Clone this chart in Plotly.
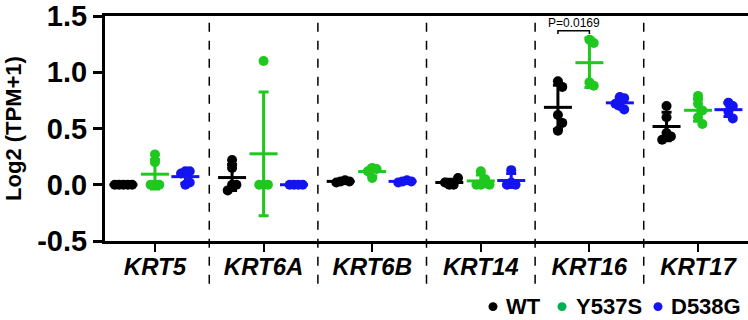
import numpy as np
import plotly.graph_objects as go

genes = ["KRT5", "KRT6A", "KRT6B", "KRT14", "KRT16", "KRT17"]
series_names = ["WT", "Y537S", "D538G"]
colors = ["#000000", "#1ec81e", "#1414f0"]
legend_colors = ["#000000", "#00b050", "#1414f0"]

wt = [
    [0.0, 0.0, 0.0, 0.0, 0.0],
    [0.22, 0.15, 0.0, 0.0, -0.05],
    [0.03, 0.04, 0.02, 0.03],
    [0.0, 0.0, 0.02, 0.06],
    [0.92, 0.87, 0.62, 0.55, 0.48],
    [0.70, 0.60, 0.46, 0.43, 0.40],
]
y537s = [
    [0.27, 0.2, 0.0, 0.0, 0.0],
    [1.10, 0.0, 0.0, 0.0],
    [0.15, 0.14, 0.12, 0.06],
    [0.12, 0.05, 0.0, 0.0, 0.0],
    [1.29, 1.26, 0.91, 0.88],
    [0.79, 0.72, 0.66, 0.60, 0.54],
]
d538g = [
    [0.12, 0.12, 0.1, 0.0, 0.02],
    [0.0, 0.0, 0.0, 0.0],
    [0.03, 0.04, 0.02, 0.03],
    [0.13, 0.02, 0.0, 0.0],
    [0.78, 0.77, 0.72, 0.70, 0.67],
    [0.73, 0.70, 0.65, 0.59],
]
all_series = [wt, y537s, d538g]
series_offsets = [-0.29, 0.0, 0.28]

y_ticks = [-0.5, 0.0, 0.5, 1.0, 1.5]
p_text = "P=0.0169"
p_gene = 4  # KRT16, WT vs Y537S
p_y = 1.37

# legend layout (pixel positions in the 748x320 page)
legend_marker_px = [493, 562, 658]
legend_text_px = [504, 574, 669]
legend_y_px = 308

W, H = 748, 320
ML, MR, MT, MB = 105, 0, 11, 79
PW, PH = W - ML - MR, H - MT - MB


def to_paper(px, py):
    return (px - ML) / PW, (H - MB - py) / PH


fig = go.Figure()


def swarm(vals, step=0.04, ythr=0.07):
    placed = []
    xs = []
    for v in vals:
        cands = [0.0]
        for k in range(1, 8):
            cands += [k * step, -k * step]
        for c in cands:
            ok = all(not (abs(v - pv) < ythr and abs(c - px) < step * 0.9) for pv, px in placed)
            if ok:
                placed.append((v, c))
                xs.append(c)
                break
    return xs


for si, (name, data) in enumerate(zip(series_names, all_series)):
    px, py = [], []
    mx, my, msd = [], [], []
    for gi, vals in enumerate(data):
        center = gi + series_offsets[si]
        offs = swarm(vals)
        px += [center + o for o in offs]
        py += vals
        mx.append(center)
        my.append(float(np.mean(vals)))
        msd.append(float(np.std(vals, ddof=1)))
    fig.add_trace(go.Scatter(
        x=px, y=py, mode="markers", name=name, showlegend=False, cliponaxis=False,
        marker=dict(size=10, color=colors[si], line=dict(width=0)),
    ))
    fig.add_trace(go.Scatter(
        x=mx, y=my, mode="markers", showlegend=False,
        marker=dict(symbol="line-ew", size=20, color=colors[si],
                    line=dict(width=3, color=colors[si])),
        error_y=dict(type="data", array=msd, visible=True, thickness=3,
                     width=5, color=colors[si]),
    ))

for gi in range(len(genes) - 1):
    fig.add_shape(type="line", xref="x", yref="paper", x0=gi + 0.5, x1=gi + 0.5,
                  y0=-0.19, y1=0.987, line=dict(color="black", width=1.5, dash="dash"))

x0 = p_gene + series_offsets[0] + 0.0
x1 = p_gene + series_offsets[1]
fig.add_shape(type="path", xref="x", yref="y",
              path=f"M {x0},{p_y - 0.03} L {x0},{p_y} L {x1},{p_y} L {x1},{p_y - 0.03}",
              line=dict(color="black", width=1.5))
fig.add_annotation(x=(x0 + x1) / 2, y=p_y, yanchor="bottom", text=p_text,
                   showarrow=False, font=dict(size=12, color="black",
                                              family="Liberation Sans, Arial"), yshift=-1)

# legend row (bottom right)
r = 4.5
for n, c, mpx, tpx in zip(series_names, legend_colors, legend_marker_px, legend_text_px):
    ax0, ay0 = to_paper(mpx - r, legend_y_px + r)
    ax1, ay1 = to_paper(mpx + r, legend_y_px - r)
    fig.add_shape(type="circle", xref="paper", yref="paper", x0=ax0, y0=ay0, x1=ax1, y1=ay1,
                  fillcolor=c, line=dict(width=0))
    tx, ty = to_paper(tpx, legend_y_px)
    fig.add_annotation(xref="paper", yref="paper", x=tx, y=ty, xanchor="left",
                       yanchor="middle", showarrow=False, text=f"<b>{n}</b>",
                       font=dict(size=22, color="black", family="Liberation Sans, Arial"))

fig.update_layout(
    width=W, height=H,
    margin=dict(l=ML, r=MR, t=MT, b=MB),
    plot_bgcolor="white", paper_bgcolor="white",
    font=dict(family="Liberation Sans, Arial", color="black"),
    showlegend=False,
    xaxis=dict(range=[-0.46, 5.46], tickmode="array",
               tickvals=list(range(len(genes))),
               ticktext=[f"<b><i>{g}</i></b>" for g in genes],
               tickfont=dict(size=24, color="black"),
               ticklabelstandoff=-6,
               showline=True, linewidth=3, linecolor="black", mirror=True,
               ticks="outside", ticklen=8, tickwidth=2, tickcolor="black",
               showgrid=False, zeroline=False),
    yaxis=dict(range=[-0.5, 1.5], tickmode="array", tickvals=y_ticks,
               ticktext=[f"<b>{v:.1f}</b>" for v in y_ticks],
               tickfont=dict(size=29, color="black"),
               ticklabeloverflow="allow",
               showline=True, linewidth=3, linecolor="black",
               ticks="outside", ticklen=9, tickwidth=3, tickcolor="black",
               showgrid=False, zeroline=False,
               title=dict(text="<b>Log2 (TPM+1)</b>", font=dict(size=22), standoff=10)),
)

fig.write_html("out.html")
